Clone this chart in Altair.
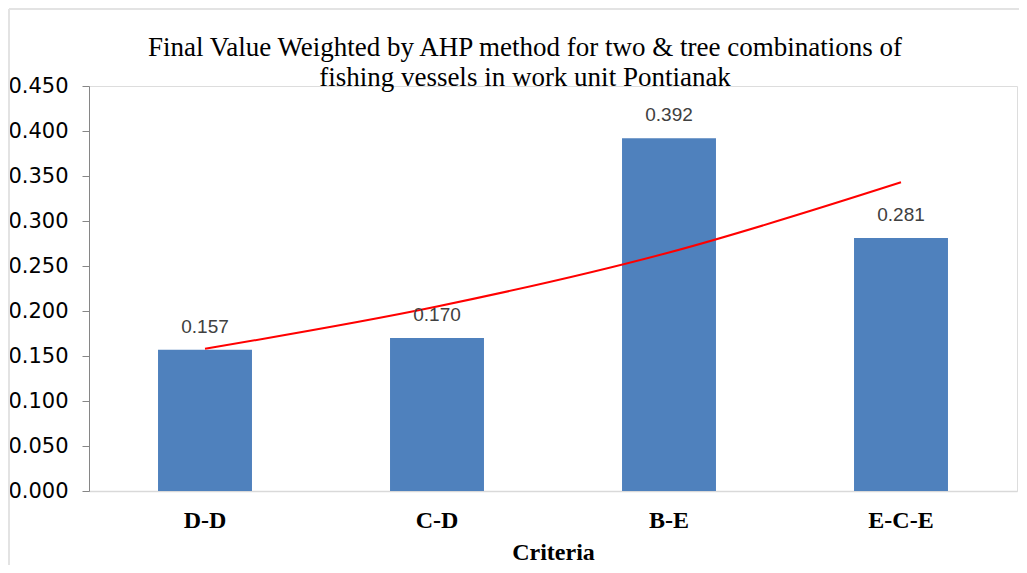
import altair as alt
import pandas as pd

categories = ["D-D", "C-D", "B-E", "E-C-E"]
values = [0.157, 0.170, 0.392, 0.281]
trend = [0.158, 0.205, 0.265, 0.343]
y_ticks = [0.0, 0.05, 0.1, 0.15, 0.2, 0.25, 0.3, 0.35, 0.4, 0.45]

SERIF = "Liberation Serif"
SANS_AXIS = "DejaVu Sans"

df = pd.DataFrame({"Criteria": categories, "value": values, "trend": trend,
                   "label": [f"{v:.3f}" for v in values]})

x = alt.X("Criteria:N", sort=categories,
          scale=alt.Scale(paddingInner=0.595, paddingOuter=0.2975),
          axis=alt.Axis(title="Criteria", labelAngle=0, ticks=False,
                        domainColor="#d9d9d9", domainWidth=1.5,
                        labelFont=SERIF, labelFontSize=24,
                        labelFontWeight="bold", labelColor="#000000",
                        labelPadding=17,
                        titleFont=SERIF, titleFontSize=24,
                        titleFontWeight="bold", titleColor="#000000",
                        titlePadding=8))
y = alt.Y("value:Q", scale=alt.Scale(domain=[0, 0.45], nice=False),
          axis=alt.Axis(title=None, values=y_ticks, format=".3f", grid=False,
                        domainColor="#868686", tickColor="#868686",
                        tickSize=7, labelPadding=14,
                        labelFont=SANS_AXIS, labelFontSize=21,
                        labelColor="#000000"))

bars = alt.Chart(df).mark_bar(color="#4f81bd").encode(x=x, y=y)
labels = alt.Chart(df).mark_text(dy=-23, font="Liberation Sans", fontSize=19,
                                 color="#404040").encode(
    x=alt.X("Criteria:N", sort=categories), y="value:Q", text="label:N")
line = alt.Chart(df).mark_line(color="#ff0000", strokeWidth=2,
                               interpolate="monotone").encode(
    x=alt.X("Criteria:N", sort=categories), y="trend:Q")

# light frame around the whole figure (decoration)
frame_top = alt.Chart(df).mark_rule(color="#e3e3e3", strokeWidth=2).encode(
    x=alt.value(-80), x2=alt.value(940), y=alt.value(-77))
frame_left = alt.Chart(df).mark_rule(color="#e3e3e3", strokeWidth=2).encode(
    x=alt.value(-80), y=alt.value(-77), y2=alt.value(480))

chart = alt.layer(bars, line, labels, frame_top, frame_left).properties(
    width=928, height=405,
    title=alt.TitleParams(
        ["Final  Value Weighted by AHP method for two & tree combinations  of",
         "fishing  vessels in work unit  Pontianak"],
        font=SERIF, fontSize=27, fontWeight="normal",
        color="#000000", anchor="middle", dx=-28, offset=-84, lineHeight=30),
    autosize=alt.AutoSizeParams(type="none"),
    padding={"left": 81, "top": 78, "right": 2, "bottom": 74},
).configure_view(stroke=None).configure(background="#ffffff")

chart.save("out.html", embed_options={"renderer": "svg", "actions": False})
